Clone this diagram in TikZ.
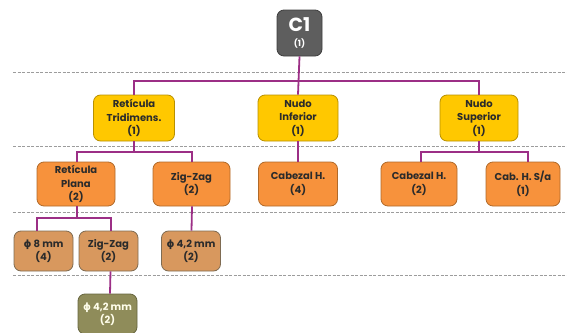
\documentclass[tikz,border=0pt]{standalone}
\usepackage{fontspec}
\setmainfont{Poppins}
\newfontfamily\grk{DejaVu Sans}
\definecolor{connc}{HTML}{9C2F86}
\definecolor{dashc}{HTML}{9C9C9C}
\definecolor{gfill}{HTML}{5E5E5E}
\definecolor{gdraw}{HTML}{3E3E3E}
\definecolor{yfill}{HTML}{FFC800}
\definecolor{ydraw}{HTML}{B89000}
\definecolor{ofill}{HTML}{F7923C}
\definecolor{odraw}{HTML}{B06A2A}
\definecolor{tfill}{HTML}{D8985E}
\definecolor{tdraw}{HTML}{7E6B52}
\definecolor{lfill}{HTML}{8F8C5A}
\definecolor{ldraw}{HTML}{66653F}
\definecolor{txt}{HTML}{2B2B2B}
\begin{document}
\begin{tikzpicture}[x=1pt,y=-1pt,
  box/.style={rounded corners=7pt, line width=0.8pt, align=center, inner sep=0pt,
    font=\fontsize{10}{13.5}\selectfont\bfseries, text=txt},
  graybox/.style={box, fill=gfill, draw=gdraw, text=white, minimum width=45pt, minimum height=46pt},
  ybox/.style={box, fill=yfill, draw=ydraw, minimum height=46pt},
  obox/.style={box, fill=ofill, draw=odraw, minimum height=44pt},
  tbox/.style={box, fill=tfill, draw=tdraw, minimum height=40pt, minimum width=59pt},
  lbox/.style={box, fill=lfill, draw=ldraw, text=white!92!yellow, minimum height=40pt, minimum width=59pt},
  conn/.style={draw=connc, line width=1.8pt},
  dashline/.style={draw=dashc, line width=1pt, dash pattern=on 3pt off 1.5pt}]
\useasboundingbox (0,0) rectangle (567,332);
% dashed level separators
\draw[dashline] (13,72) -- (567,72);
\draw[dashline] (13,146) -- (567,146);
\draw[dashline] (13,212) -- (567,212);
\draw[dashline] (13,275) -- (567,275);
% nodes
\node[graybox] (c1) at (299.5,33) {{\fontsize{19}{19}\selectfont C1}\\[1pt]{\fontsize{8.5}{9}\selectfont (1)}};
\node[ybox, minimum width=81pt] (ret3d) at (134,118) {Retícula\\Tridimens.\\(1)};
\node[ybox, minimum width=80pt] (ninf) at (298,118) {Nudo\\Inferior\\(1)};
\node[ybox, minimum width=78pt] (nsup) at (479,118) {Nudo\\Superior\\(1)};
\node[obox, minimum width=78pt] (retpl) at (76,184) {Retícula\\Plana\\(2)};
\node[obox, minimum width=77pt] (zz2) at (191.5,184) {Zig-Zag\\(2)};
\node[obox, minimum width=79pt] (cab4) at (298,184) {Cabezal H.\\(4)};
\node[obox, minimum width=76pt] (cab2) at (419,184) {Cabezal H.\\(2)};
\node[obox, minimum width=74pt] (cabsa) at (523,184) {Cab. H. S/a\\(1)};
\node[tbox] (phi8) at (43.5,251) {{\grk\bfseries ϕ} 8 mm\\(4)};
\node[tbox] (zz3) at (108.5,251) {Zig-Zag\\(2)};
\node[tbox] (phi42a) at (191,251) {{\grk\bfseries ϕ} 4,2 mm\\(2)};
\node[lbox] (phi42b) at (107.5,314) {{\grk\bfseries ϕ} 4,2 mm\\(2)};
% connectors
\draw[conn] (c1.south) -- (ninf.north);
\draw[conn] (ret3d.north) -- (ret3d.north |- 0,81) -| (nsup.north);
\draw[conn] (ret3d.south) -- (ret3d.south |- 0,152) -| ([xshift=1pt]retpl.north);
\draw[conn] (ret3d.south |- 0,152) -| ([xshift=0.5pt]zz2.north);
\draw[conn] (ninf.south) -- (cab4.north);
\draw[conn] (nsup.south) -- (nsup.south |- 0,152) -| ([xshift=2pt]cab2.north);
\draw[conn] (nsup.south |- 0,152) -| ([xshift=5pt]cabsa.north);
\draw[conn] ([xshift=1pt]retpl.south) -- ([xshift=1pt]retpl.south |- 0,218) -| ([xshift=-6.5pt]phi8.north);
\draw[conn] ([xshift=1pt]retpl.south |- 0,218) -| ([xshift=2.5pt]zz3.north);
\draw[conn] ([xshift=0.5pt]zz2.south) -- (zz2.south |- phi42a.north);
\draw[conn] ([xshift=2pt]zz3.south) -- ([xshift=2.5pt]phi42b.north);
\end{tikzpicture}
\end{document}
